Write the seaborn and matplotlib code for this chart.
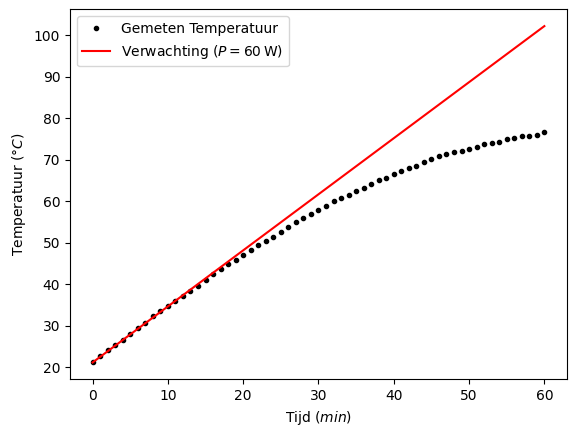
import numpy as np
import pandas as pd
import seaborn as sns
import matplotlib
matplotlib.use('Agg')
import matplotlib.pyplot as plt

# Measured temperature, one reading per minute
tijd = list(range(0, 61))
temperatuur = [21.3, 22.7, 24.1, 25.3, 26.5, 28.0, 29.4, 30.8, 32.3, 33.5,
               34.8, 35.9, 37.2, 38.5, 39.6, 41.0, 42.4, 43.8, 44.8, 46.0,
               47.2, 48.2, 49.4, 50.5, 51.5, 52.7, 53.8, 55.0, 55.9, 56.9,
               58.0, 58.8, 60.0, 60.7, 61.6, 62.4, 63.3, 64.1, 65.1, 65.7,
               66.5, 67.4, 68.0, 68.6, 69.4, 70.1, 71.0, 71.3, 71.8, 72.2,
               72.7, 73.1, 73.7, 74.1, 74.4, 74.9, 75.3, 75.7, 75.8, 76.1,
               76.6]

# Expected (linear) heating curve at P = 60 W
verwacht_tijd = [0, 60]
verwacht_temp = [21.2, 102.2]

df = pd.DataFrame({'tijd': tijd, 'temp': temperatuur})

fig = plt.figure(figsize=(5.75, 4.36), dpi=100)
ax = fig.add_axes([0.1217, 0.130, 0.8643, 0.8487])

sns.lineplot(data=df, x='tijd', y='temp', ax=ax, color='k', marker='.',
             linestyle='', markersize=6, markeredgecolor='k',
             markeredgewidth=1.0, label='Gemeten Temperatuur')
sns.lineplot(x=verwacht_tijd, y=verwacht_temp, ax=ax, color='red',
             label=r'Verwachting ($P = 60\,\mathrm{W}$)')

ax.set_xlabel(r'Tijd ($min$)')
ax.set_ylabel(r'Temperatuur ($°C$)')
ax.set_xticks(range(0, 61, 10))
ax.set_yticks(range(20, 101, 10))
ax.legend(loc='upper left')

fig.savefig('out.png', dpi=100)
